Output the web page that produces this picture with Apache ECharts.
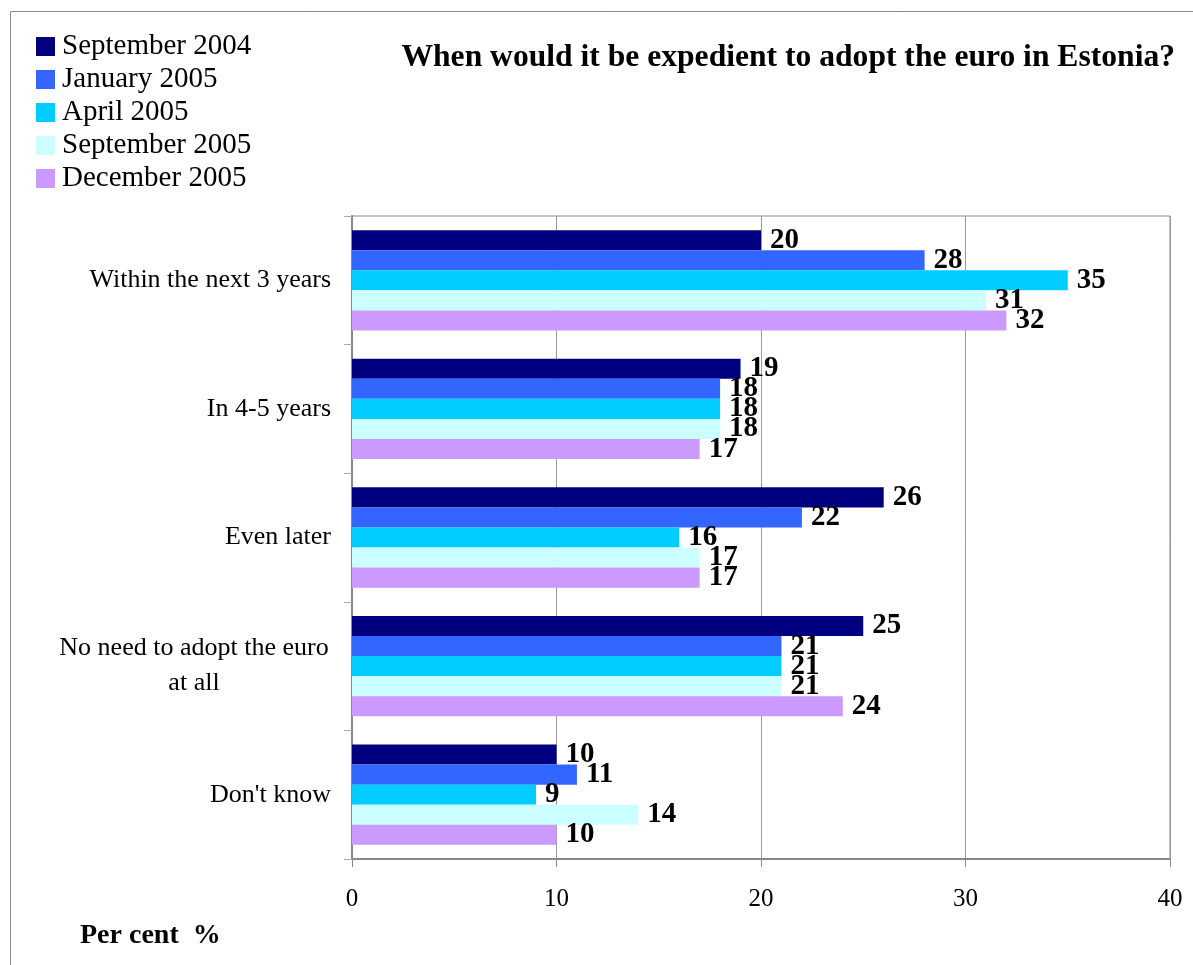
<!DOCTYPE html>
<html>
<head>
<meta charset="utf-8">
<script src="https://cdn.jsdelivr.net/npm/echarts@6/dist/echarts.min.js"></script>
<style>
  html, body { margin: 0; padding: 0; background: #fff; }
  #main { width: 1193px; height: 965px; }
</style>
</head>
<body>
<div id="main"></div>
<script>
// categories, top to bottom
const categories = [
  'Within the next 3 years',
  'In 4-5 years',
  'Even later',
  'No need to adopt the euro\nat all',
  "Don't know"
];
const seriesNames = ['September 2004', 'January 2005', 'April 2005', 'September 2005', 'December 2005'];
const sep2004 = [20, 19, 26, 25, 10];
const jan2005 = [28, 18, 22, 21, 11];
const apr2005 = [35, 18, 16, 21, 9];
const sep2005 = [31, 18, 17, 21, 14];
const dec2005 = [32, 17, 17, 24, 10];
const colors = ['#000080', '#3366ff', '#00ccff', '#ccffff', '#cc99ff'];

const serif = '"Liberation Serif", "Times New Roman", serif';
const allValues = [sep2004, jan2005, apr2005, sep2005, dec2005];

let chart = echarts.init(document.getElementById('main'));

chart.setOption({
  animation: false,
  color: colors,
  title: {
    text: 'When would it be expedient to adopt the euro in Estonia?',
    right: 13,
    top: 37,
    textStyle: { fontFamily: serif, fontSize: 31.6, fontWeight: 'bold', color: '#000' }
  },
  legend: {
    orient: 'vertical',
    left: 31,
    top: 27,
    itemWidth: 19,
    itemHeight: 19,
    itemGap: 4,
    icon: 'rect',
    textStyle: { fontFamily: serif, fontSize: 29, color: '#000', padding: [0, 0, 0, 2] },
    data: seriesNames
  },
  graphic: [
    {
      type: 'rect',
      shape: { x: 10.5, y: 11.5, width: 1200, height: 1000 },
      style: { fill: 'none', stroke: '#888', lineWidth: 1 },
      silent: true
    },
    {
      type: 'text',
      left: 80,
      top: 922,
      style: { text: 'Per cent  %', fontFamily: serif, fontSize: 28, fontWeight: 'bold', fill: '#000' }
    }
  ],
  grid: {
    left: 352,
    right: 23,
    top: 216,
    bottom: 106,
    show: true,
    borderColor: '#888',
    borderWidth: 1
  },
  xAxis: {
    type: 'value',
    min: 0,
    max: 40,
    interval: 10,
    axisLine: { show: true, lineStyle: { color: '#888', width: 2 } },
    axisTick: { show: true, length: 8, lineStyle: { color: '#888' } },
    splitLine: { show: true, lineStyle: { color: '#999' } },
    axisLabel: { fontFamily: serif, fontSize: 25, color: '#000', margin: 28 }
  },
  yAxis: {
    type: 'category',
    inverse: true,
    data: categories,
    axisLine: { show: true, lineStyle: { color: '#888', width: 2 } },
    axisTick: { show: true, length: 8, lineStyle: { color: '#aaa' } },
    axisLabel: {
      fontFamily: serif,
      fontSize: 26,
      color: '#000',
      margin: 21,
      formatter: function (v) {
        if (v.indexOf('\n') < 0) return v;
        return v.split('\n').map(s => '{c|' + s + '}').join('\n');
      },
      rich: {
        c: { width: 274, align: 'center', lineHeight: 35, fontFamily: serif, fontSize: 26, color: '#000' }
      }
    }
  },
  series: seriesNames.map((name, i) => ({
    name: name,
    type: 'bar',
    data: allValues[i],
    barGap: '0%',
    barCategoryGap: '22%',
    label: {
      show: true,
      position: 'right',
      distance: 9,
      fontFamily: serif,
      fontSize: 29,
      fontWeight: 'bold',
      color: '#000'
    }
  }))
});
</script>
</body>
</html>
